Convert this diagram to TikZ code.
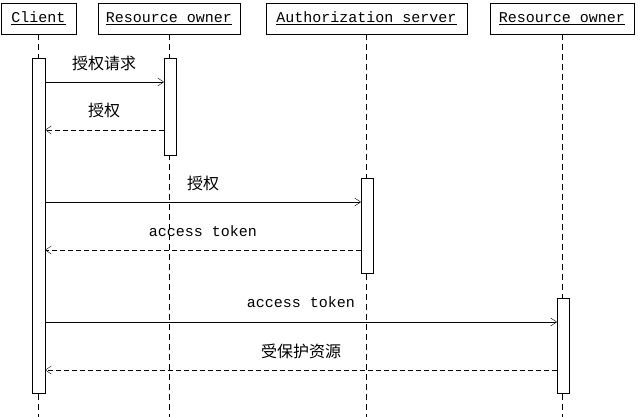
\documentclass[tikz,border=0pt]{standalone}
\usepackage{fontspec}
\setmonofont{Liberation Mono}
\newfontfamily\cjk{Noto Sans CJK SC}
\usetikzlibrary{arrows.meta}
\tikzset{
  head/.style={draw, inner sep=0pt, minimum height=31pt, font=\ttfamily\fontsize{15}{15}\selectfont},
  bar/.style={draw, fill=white},
  life/.style={dashed, dash pattern=on 6pt off 4pt},
  call/.style={-{Straight Barb[length=6pt,width=8pt]}},
  reply/.style={call, dashed, dash pattern=on 5pt off 3pt},
  lbl/.style={font=\ttfamily\fontsize{15}{15}\selectfont},
  clbl/.style={font=\cjk\fontsize{16}{16}\selectfont}
}
\begin{document}
\begin{tikzpicture}[x=1pt, y=-1pt]
    \useasboundingbox (0,0) rectangle (640,417);

    % participants
    \node[head, minimum width=75pt] (client) at (38.5,18.5) {\underline{Client}};
    \node[head, minimum width=142pt] (ro) at (169,18.5) {\underline{Resource owner}};
    \node[head, minimum width=201pt] (as) at (366.5,18.5) {\underline{Authorization server}};
    \node[head, minimum width=144pt] (rs) at (562,18.5) {\underline{Resource owner}};

    % lifelines
    \draw[life] (client.south) -- (38.5,417);
    \draw[life] (ro.south) -- (169,417);
    \draw[life] (as.south) -- (366.5,417);
    \draw[life] (rs.south) -- (562,417);

    % activations
    \draw[bar] (32,58) rectangle (45,393);
    \draw[bar] (164,58) rectangle (176,155);
    \draw[bar] (361,178) rectangle (373,273);
    \draw[bar] (557,298) rectangle (569,393);

    % messages
    \coordinate (c1) at (45,82);  \coordinate (r1) at (164,82);
    \coordinate (c2) at (45,130); \coordinate (r2) at (164,130);
    \coordinate (c3) at (45,202); \coordinate (a3) at (361,202);
    \coordinate (c4) at (45,250); \coordinate (a4) at (361,250);
    \coordinate (c5) at (45,322); \coordinate (s5) at (557,322);
    \coordinate (c6) at (45,370); \coordinate (s6) at (557,370);

    \draw[call] (c1) -- (r1);
    \draw[reply] (r2) -- (c2);
    \draw[call] (c3) -- (a3);
    \draw[reply] (a4) -- (c4);
    \draw[call] (c5) -- (s5);
    \draw[reply] (s6) -- (c6);

    \node[clbl] (m1) at (104,63) {授权请求};
    \node[clbl] (m2) at (104,110) {授权};
    \node[clbl] (m3) at (203,183) {授权};
    \node[lbl] (m4) at (203,231) {access token};
    \node[lbl] (m5) at (301,302) {access token};
    \node[clbl] (m6) at (301,351) {受保护资源};
\end{tikzpicture}
\end{document}
